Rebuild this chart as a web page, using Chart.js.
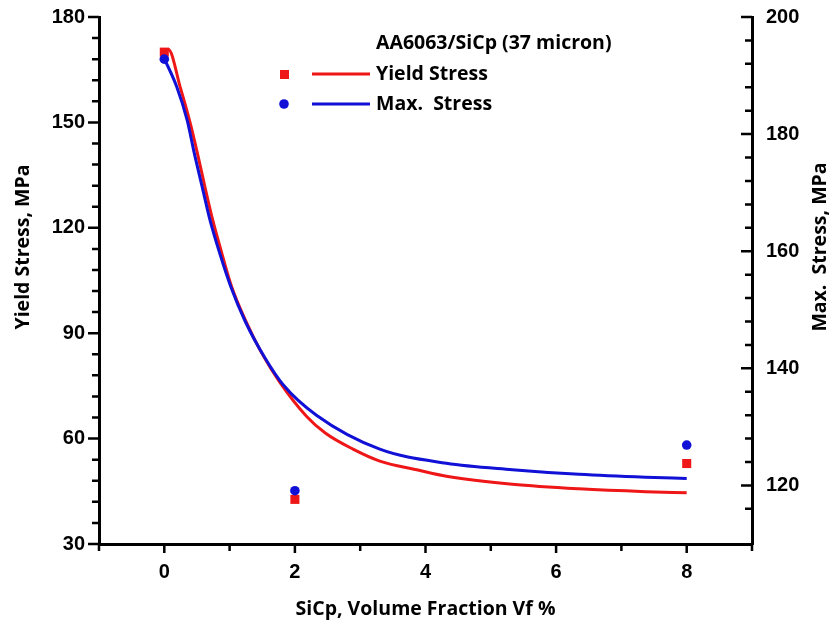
<!DOCTYPE html>
<html>
<head>
<meta charset="utf-8">
<script src="https://cdn.jsdelivr.net/npm/chart.js@4.4.1/dist/chart.umd.min.js"></script>
<style>
  html, body { margin: 0; padding: 0; background: #fff; }
  canvas { display: block; }
</style>
</head>
<body>
<canvas id="stress_chart" width="832" height="627"></canvas>
<script>
// измеренные точки (SiCp, % -> напряжение, МПа)
const vfPoints = [0, 2, 8];
const yieldPoints = [170, 42.7, 52.9];
const maxPoints = [192.8, 119.1, 126.9];

// аппроксимирующие кривые
const yieldFitX = [0, 0.06, 0.25, 0.40, 0.51, 0.62, 0.74, 0.88, 1.03, 1.24, 1.49, 1.77, 2.18, 2.47, 2.89, 3.3, 3.9, 4.32, 5.33, 6.35, 7.37, 8];
const yieldFitY = [170, 170.8, 159.6, 149.6, 141.0, 131.8, 122.3, 112.8, 103.3, 93.8, 84.4, 76, 66.3, 61.5, 57, 53.6, 51, 49.3, 47, 45.7, 44.9, 44.6];
const maxFitX = [0, 0.19, 0.35, 0.46, 0.58, 0.70, 0.85, 1.02, 1.24, 1.54, 1.82, 2.33, 3.3, 4.32, 5.33, 6.35, 7.37, 8];
const maxFitY = [192.9, 188.1, 182.4, 176.7, 171.0, 165.3, 159.6, 153.9, 148.0, 141.8, 137.2, 132, 126.2, 123.8, 122.7, 121.9, 121.4, 121.2];

const legendTitle = "AA6063/SiCp (37 micron)";
const yieldLabel = "Yield Stress";
const maxLabel = "Max.  Stress";
const xTitle = "SiCp, Volume Fraction Vf %";
const yTitle = "Yield Stress, MPa";
const y1Title = "Max.  Stress, MPa";

const RED = "rgb(238,22,22)";
const BLUE = "rgb(16,16,214)";
const TICK_FONT = { family: "'Liberation Sans', Arial, sans-serif", size: 20, weight: "bold" };
const TITLE_FONT = "bold 19.5px 'Open Sans', sans-serif";

const toXY = (xs, ys) => xs.map((x, i) => ({ x, y: ys[i] }));

// вертикальным осям не даём раздувать верхний отступ
const fitY = w => s => {
  s.width = w;
  s.paddingTop = 0;
  s.paddingBottom = 0;
};

// засечки (большие и малые) + подписи осей + легенда
const decorPlugin = {
  id: "decor",
  afterDraw(chart) {
    const { ctx, chartArea } = chart;
    const { x, y, y1 } = chart.scales;
    ctx.save();
    ctx.strokeStyle = "#000";
    ctx.lineWidth = 2.5;
    ctx.beginPath();
    x.ticks.forEach(t => {
      const px = x.getPixelForValue(t.value);
      const len = t.value % 2 === 0 ? 9 : 7;
      ctx.moveTo(px, chartArea.bottom);
      ctx.lineTo(px, chartArea.bottom + len);
    });
    y.ticks.forEach(t => {
      const py = y.getPixelForValue(t.value);
      const len = t.value % 30 === 0 ? 11 : 7;
      ctx.moveTo(chartArea.left, py);
      ctx.lineTo(chartArea.left - len, py);
    });
    y1.ticks.forEach(t => {
      if (t.value === 110) return;
      const py = y1.getPixelForValue(t.value);
      const len = t.value % 20 === 0 ? 11 : 7;
      ctx.moveTo(chartArea.right, py);
      ctx.lineTo(chartArea.right - len, py);
    });
    ctx.stroke();

    // подписи осей
    ctx.fillStyle = "#000";
    ctx.font = TITLE_FONT;
    ctx.textAlign = "center";
    ctx.textBaseline = "middle";
    ctx.fillText(xTitle, (chartArea.left + chartArea.right) / 2, 609);
    ctx.save();
    ctx.translate(23, 247);
    ctx.rotate(-Math.PI / 2);
    ctx.fillText(yTitle, 0, 0);
    ctx.restore();
    ctx.save();
    ctx.translate(820, 247);
    ctx.rotate(-Math.PI / 2);
    ctx.fillText(y1Title, 0, 0);
    ctx.restore();

    // легенда
    ctx.textAlign = "left";
    ctx.fillText(legendTitle, 376, 43);
    ctx.fillText(yieldLabel, 376, 74);
    ctx.fillText(maxLabel, 376, 104);
    ctx.fillStyle = RED;
    ctx.fillRect(280, 70, 9, 9);
    ctx.fillStyle = BLUE;
    ctx.beginPath();
    ctx.arc(284, 104, 4.8, 0, Math.PI * 2);
    ctx.fill();
    ctx.lineWidth = 3;
    ctx.strokeStyle = RED;
    ctx.beginPath(); ctx.moveTo(312, 74); ctx.lineTo(370, 74); ctx.stroke();
    ctx.strokeStyle = BLUE;
    ctx.beginPath(); ctx.moveTo(312, 104); ctx.lineTo(370, 104); ctx.stroke();
    ctx.restore();
  }
};

window.addEventListener("load", () => {
  const ctx = document.getElementById("stress_chart");
  const data = {
    datasets: [
      {
        label: yieldLabel,
        data: toXY(vfPoints, yieldPoints),
        yAxisID: "y",
        showLine: false,
        pointStyle: "rect",
        pointRadius: 6.4,
        pointBackgroundColor: RED,
        pointBorderWidth: 0,
        order: 1,
      },
      {
        label: maxLabel,
        data: toXY(vfPoints, maxPoints),
        yAxisID: "y1",
        showLine: false,
        pointStyle: "circle",
        pointRadius: 4.8,
        pointBackgroundColor: BLUE,
        pointBorderWidth: 0,
        order: 0,
      },
      {
        label: yieldLabel + " fit",
        data: toXY(yieldFitX, yieldFitY),
        yAxisID: "y",
        showLine: true,
        pointRadius: 0,
        borderColor: RED,
        borderWidth: 3,
        cubicInterpolationMode: "monotone",
        order: 3,
      },
      {
        label: maxLabel + " fit",
        data: toXY(maxFitX, maxFitY),
        yAxisID: "y1",
        showLine: true,
        pointRadius: 0,
        borderColor: BLUE,
        borderWidth: 3,
        cubicInterpolationMode: "monotone",
        order: 2,
      },
    ]
  };

  const config = {
    type: "scatter",
    data,
    plugins: [decorPlugin],
    options: {
      responsive: false,
      animation: false,
      devicePixelRatio: 1,
      layout: { padding: { top: 17, right: 0, left: 0, bottom: 0 } },
      plugins: {
        legend: { display: false },
        tooltip: { enabled: false },
      },
      scales: {
        x: {
          type: "linear",
          min: -1,
          max: 9,
          afterFit: s => { s.height = 83; s.paddingLeft = 0; s.paddingRight = 0; },
          grid: { display: false, drawTicks: false },
          border: { display: true, color: "#000", width: 3 },
          ticks: {
            stepSize: 1,
            autoSkip: false,
            maxRotation: 0,
            padding: 16,
            color: "#000",
            font: TICK_FONT,
            callback: v => (v % 2 === 0 ? v : ""),
          },
        },
        y: {
          type: "linear",
          position: "left",
          min: 30,
          max: 180,
          afterFit: fitY(99),
          grid: { display: false, drawTicks: false },
          border: { display: true, color: "#000", width: 3 },
          ticks: {
            stepSize: 6,
            autoSkip: false,
            padding: 14,
            color: "#000",
            font: TICK_FONT,
            callback: v => (v % 30 === 0 ? v : ""),
          },
        },
        y1: {
          type: "linear",
          position: "right",
          min: 110,
          max: 200,
          afterFit: fitY(80),
          grid: { display: false, drawTicks: false },
          border: { display: true, color: "#000", width: 3 },
          ticks: {
            stepSize: 4,
            autoSkip: false,
            padding: 14,
            color: "#000",
            font: TICK_FONT,
            callback: v => (v % 20 === 0 && v >= 120 ? v : ""),
          },
        },
      },
    },
  };

  window.stressChart = new Chart(ctx, config);
});
</script>
</body>
</html>
